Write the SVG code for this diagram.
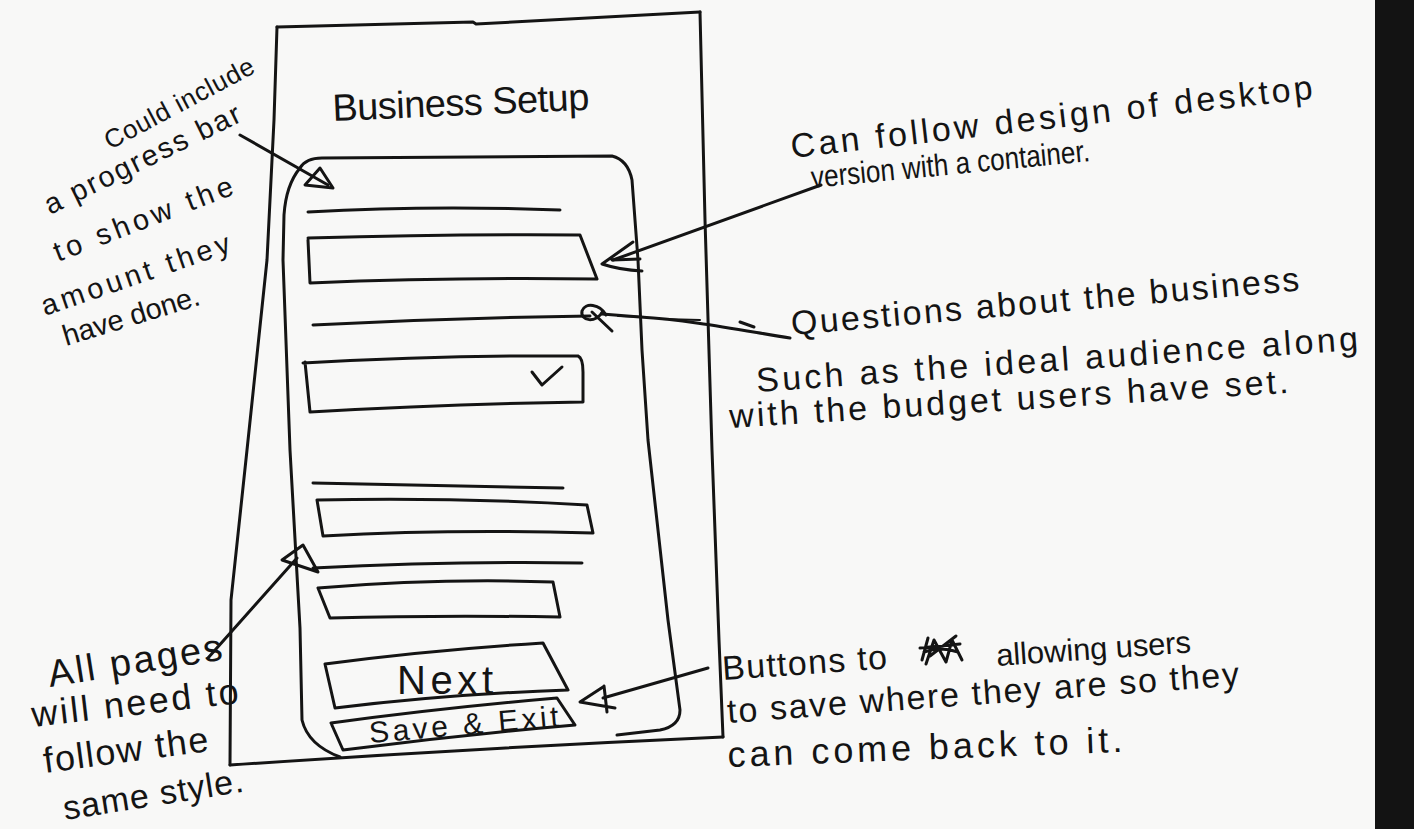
<svg xmlns="http://www.w3.org/2000/svg" width="1414" height="829" viewBox="0 0 1414 829">
  <defs>
    <style>
      .ink { fill: none; stroke: #141414; stroke-width: 3; stroke-linecap: round; stroke-linejoin: round; }
      .thin { fill: none; stroke: #141414; stroke-width: 2; stroke-linecap: round; }
      .hand { font-family: "Liberation Sans", "DejaVu Sans", sans-serif; fill: #141414; }
      .left-note { font-size: 29px; }
      .right-note { font-size: 34px; }
      .style-note { font-size: 36px; }
      .title { font-size: 38px; }
      .btn { font-size: 40px; }
      .btn-small { font-size: 30px; }
    </style>
  </defs>

  <!-- paper -->
  <rect x="0" y="0" width="1414" height="829" fill="#f8f8f7"/>
  <rect x="1375" y="0" width="39" height="829" fill="#131313"/>

  <!-- phone frame -->
  <g id="phone-frame">
    <path class="ink" d="M277,27 L473,22 L476,24 L700,12"/>
    <path class="ink" d="M277,27 L274,120 L267,260 L247,450 L231,600 L230,765"/>
    <path class="ink" d="M700,12 L705,220 L712,450 L719,640 L723,737"/>
    <path class="ink" d="M230,765 Q480,748 723,737"/>
  </g>

  <!-- title -->
  <g id="title">
    <text class="hand title" x="333" y="121" transform="rotate(-2.5 333 121)" textLength="257" lengthAdjust="spacing">Business Setup</text>
  </g>

  <!-- rounded content container -->
  <g id="container">
    <path class="ink" d="M300,168 Q306,158 322,158 L612,156 Q628,160 632,180 L638,260 L642,350 L648,440 L668,620 L680,710 Q680,726 660,730 L617,735"/>
    <path class="ink" d="M300,168 Q286,185 284,215 L283,260 L290,450 L300,628 L302,720 Q308,745 340,757"/>
  </g>

  <!-- form fields -->
  <g id="field-1">
    <path class="ink" d="M308,212 Q430,205 560,210"/>
    <path class="ink" d="M308,238 Q450,234 580,235 L597,279 Q450,277 310,283 L308,240"/>
  </g>
  <g id="field-2-dropdown">
    <path class="ink" d="M313,325 Q450,318 590,316"/>
    <path class="ink" d="M303,363 Q450,355 578,356 Q583,358 583,372 L583,402 Q450,404 310,412 L305,362"/>
    <path class="ink" d="M532,372 L542,385 L562,367"/>
  </g>
  <g id="field-3">
    <path class="ink" d="M313,483 Q440,485 563,488"/>
    <path class="ink" d="M317,500 Q450,497 587,505 L593,533 Q450,529 323,536 L317,500"/>
  </g>
  <g id="field-4">
    <path class="ink" d="M313,568 Q450,561 582,563"/>
    <path class="ink" d="M318,588 Q440,578 553,582 L560,617 Q440,615 330,618 L318,588"/>
  </g>

  <!-- buttons -->
  <g id="button-next">
    <path class="ink" d="M325,664 Q430,650 543,643 L568,690 Q450,694 335,708 L325,664"/>
    <text class="hand btn" x="397" y="694" textLength="96" lengthAdjust="spacing">Next</text>
  </g>
  <g id="button-save-exit">
    <path class="ink" d="M331,723 Q440,708 557,698 L575,725 Q460,735 343,750 L331,723"/>
    <text class="hand btn-small" x="370" y="743" transform="rotate(-5 370 743)" textLength="190" lengthAdjust="spacing">Save &amp; Exit</text>
  </g>

  <!-- annotation: progress bar -->
  <g id="note-progress" class="hand left-note">
    <text x="110" y="150" transform="rotate(-28 110 150)" textLength="166" lengthAdjust="spacing" font-size="26">Could include</text>
    <text x="50" y="215" transform="rotate(-26 50 215)" textLength="215" lengthAdjust="spacing">a progress bar</text>
    <text x="58" y="262" transform="rotate(-21 58 262)" textLength="190" lengthAdjust="spacing">to show the</text>
    <text x="45" y="316" transform="rotate(-19 45 316)" textLength="198" lengthAdjust="spacing">amount they</text>
    <text x="66" y="346" transform="rotate(-17 66 346)" textLength="142" lengthAdjust="spacing">have done.</text>
  </g>

  <!-- annotation: container design -->
  <g id="note-design" class="hand right-note">
    <text x="792" y="158" transform="rotate(-6.5 792 158)" textLength="525" lengthAdjust="spacing">Can follow design of desktop</text>
    <text x="812" y="188" transform="rotate(-5.5 812 188)" textLength="280" lengthAdjust="spacingAndGlyphs" font-size="31">version with a container.</text>
  </g>

  <!-- annotation: questions -->
  <g id="note-questions" class="hand right-note">
    <text x="792" y="335" transform="rotate(-5 792 335)" textLength="510" lengthAdjust="spacing">Questions about the business</text>
    <text x="757" y="392" transform="rotate(-4 757 392)" textLength="603" lengthAdjust="spacing">Such as the ideal audience along</text>
    <text x="730" y="428" transform="rotate(-3.6 730 428)" textLength="560" lengthAdjust="spacing">with the budget users have set.</text>
  </g>

  <!-- annotation: buttons -->
  <g id="note-buttons" class="hand right-note">
    <text x="723" y="680" transform="rotate(-4 723 680)" textLength="165" lengthAdjust="spacing">Buttons to</text>
    <path class="ink" d="M922,660 L928,638 M920,648 L960,644 M926,664 L934,640 L946,662 L952,640 L962,660 M924,652 Q940,646 958,652 M930,656 L956,636"/>
    <text x="997" y="666" transform="rotate(-4 997 666)" textLength="195" lengthAdjust="spacing" font-size="31">allowing users</text>
    <text x="728" y="723" transform="rotate(-4.2 728 723)" textLength="513" lengthAdjust="spacing">to save where they are so they</text>
    <text x="728" y="767" transform="rotate(-2.2 728 767)" textLength="395" lengthAdjust="spacing" font-size="36">can come back to it.</text>
  </g>

  <!-- annotation: shared style -->
  <g id="note-style" class="hand style-note">
    <text x="50" y="687" transform="rotate(-9 50 687)" textLength="176" lengthAdjust="spacing" font-size="38">All pages</text>
    <text x="33" y="727" transform="rotate(-6.6 33 727)" textLength="208" lengthAdjust="spacing">will need to</text>
    <text x="45" y="773" transform="rotate(-7.6 45 773)" textLength="166" lengthAdjust="spacing">follow the</text>
    <text x="65" y="820" transform="rotate(-9 65 820)" textLength="182" lengthAdjust="spacing" font-size="34">same style.</text>
  </g>

  <!-- connectors -->
  <g id="connectors">
    <!-- to progress bar spot -->
    <path class="ink" d="M240,135 L328,185"/>
    <path class="ink" d="M320,168 L305,185 L333,188 Z"/>
    <!-- to first input / container -->
    <path class="ink" d="M821,185 L613,260"/>
    <path class="ink" d="M633,242 L602,264 Q620,270 642,271 M612,260 L640,259"/>
    <!-- to question label -->
    <path class="ink" d="M790,338 C740,330 690,320 640,317 L602,314"/>
    <path class="thin" d="M618,316 L645,317 M662,319 L700,320"/>
    <path class="ink" d="M740,322 L754,327"/>
    <path class="ink" d="M606,315 C600,304 585,302 582,311 C580,321 596,324 603,311 M592,312 L612,331"/>
    <!-- to page frame -->
    <path class="ink" d="M208,658 L297,558"/>
    <path class="ink" d="M303,545 L282,560 L318,572 Z"/>
    <!-- to buttons -->
    <path class="ink" d="M708,668 L603,698"/>
    <path class="ink" d="M603,687 L580,702 L615,708 M604,686 L607,712"/>
  </g>
</svg>
